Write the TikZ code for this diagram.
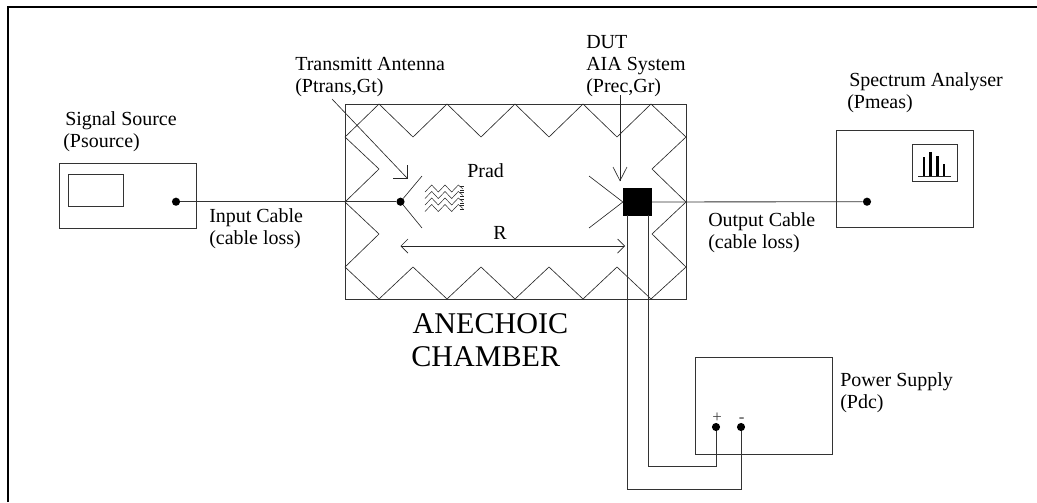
\documentclass[tikz,border=0pt]{standalone}
\usepackage{fontspec}
\setmainfont{Liberation Serif}
\usetikzlibrary{arrows.meta}
\tikzset{
  wire/.style={draw=black!80,line width=0.6pt},
  thinwire/.style={draw=black!85,line width=0.45pt},
  termdot/.style={circle,fill=black,inner sep=0pt,minimum size=5.8pt},
  caption/.style={font=\fontsize{14.2}{15.6}\selectfont,align=left,anchor=base west,inner sep=0pt},
  signtext/.style={font=\fontsize{12}{12}\selectfont,text=black!75,inner sep=0pt},
  rtip/.tip={Straight Barb[length=5pt,width=10pt,line width=0.45pt]},
}
\begin{document}
\begin{tikzpicture}[x=0.025cm,y=-0.025cm]
\useasboundingbox (0,0) rectangle (1037,502);
\draw[line width=1.2pt] (8,502) -- (8,7) -- (1037,7);

% signal source
\draw[wire] (59.5,163.5) rectangle (196.5,228.5);
\draw[wire] (68.5,174) rectangle (123.5,206.5);
\node[termdot] (srcdot) at (176,201.7) {};
\node[caption] (srclabel) at (63,147) {\hspace*{1.4pt}Signal Source\\(Psource)};

% chamber
\draw[wire] (345,104) rectangle (686,299);
\draw[thinwire] (345,137) -- (379,104) -- (413,137) -- (447,104) -- (481,137) -- (515,104)
  -- (549,137) -- (583,104) -- (617,137) -- (651,104) -- (686,137) -- (652,169) -- (686,202)
  -- (652,234) -- (686,267) -- (651,299) -- (617,267) -- (583,299) -- (549,267) -- (515,299)
  -- (481,267) -- (447,299) -- (413,267) -- (379,299) -- (345,267) -- (379,234) -- (345,202)
  -- (379,169) -- cycle;
\node[font=\fontsize{21.4}{23.4}\selectfont,align=left,anchor=base west,inner sep=0pt] (chamberlabel) at (411,366) {\hspace*{1pt}ANECHOIC\\CHAMBER};

% transmit antenna
\node[termdot] (txdot) at (400.5,201.7) {};
\coordinate (txup) at (422,176);
\coordinate (txdown) at (422,228);
\draw[thinwire] (txup) -- (txdot) -- (txdown);
\node[caption] (txlabel) at (295,92) {Transmitt Antenna\\(Ptrans,Gt)};
\coordinate (txfrom) at (332,99);
\coordinate (txto) at (407.3,178.3);
\draw[thinwire] (txfrom) -- (txto);
\draw[thinwire] (393,178.3) -- (txto) -- (407.3,165);

% radiated waves
\foreach \wavey in {185,191.5,198,204.5}{
  \draw[draw=black!85,line width=0.35pt] (425,\wavey+7) -- (431.7,\wavey) -- (438.3,\wavey+7) -- (445,\wavey) -- (451.7,\wavey+7) -- (458.3,\wavey) -- (463,\wavey+4);
  \draw[draw=black!85,line width=0.35pt] (460,\wavey+1) -- (464,\wavey+1) (460,\wavey+5) -- (464,\wavey+5);
}
\node[caption] (pradlabel) at (467,177) {Prad};

% receive antenna and DUT
\node[fill=black,minimum width=20.4pt,minimum height=19.6pt,inner sep=0pt] (dut) at (637.5,202) {};
\coordinate (rxup) at (589,176);
\coordinate (rxdown) at (589,228);
\draw[thinwire] (rxup) -- (dut.west) -- (rxdown);
\node[caption] (dutlabel) at (586,92) {DUT\\AIA System\\(Prec,Gr)};
\coordinate (dutfrom) at (620,95);
\coordinate (dutto) at (620,180.7);
\draw[thinwire] (dutfrom) -- (dutto);
\draw[thinwire] (613,167) -- (dutto) -- (627,167);

% distance
\coordinate (rleft) at (400.5,246);
\coordinate (rright) at (625,246);
\draw[thinwire,rtip-rtip] (rleft) -- (rright);
\node[caption] (rtext) at (493,239) {R};

% spectrum analyser
\draw[wire] (836,130) rectangle (973,227);
\draw[wire] (912,144) rectangle (957,181);
\foreach \barx/\bartop in {924/157,930.3/152,937.7/156,944/164}
  \draw[black,line width=2.1pt] (\barx,\bartop) -- (\barx,176.5);
\draw[thinwire] (918,176.5) -- (951,176.5);
\node[termdot] (specdot) at (867,201.7) {};
\node[caption] (speclabel) at (847,108) {\hspace*{1.4pt}Spectrum Analyser\\(Pmeas)};

% power supply
\draw[wire] (695,357) rectangle (832,454);
\node[termdot] (plusdot) at (716,427) {};
\node[termdot] (minusdot) at (741,427) {};
\node[signtext] (plussign) at (717,417.3) {+};
\node[signtext] (minussign) at (741.7,420) {-};
\node[caption] (pdclabel) at (840,408) {Power Supply\\(Pdc)};

% cables
\draw[wire] (srcdot) -- (txdot);
\draw[wire] (dut) -- (specdot);
\node[caption] (inlabel) at (209,244) {Input Cable\\(cable loss)};
\node[caption] (outlabel) at (708,248) {Output Cable\\(cable loss)};
\coordinate (dutlega) at (648,215);
\coordinate (dutlegb) at (627.7,215);
\coordinate (benda) at (648,466.7);
\coordinate (bendb) at (627.7,489.7);
\draw[wire] (dutlega) -- (benda) -- (benda -| plusdot) -- (plusdot);
\draw[wire] (dutlegb) -- (bendb) -- (bendb -| minusdot) -- (minusdot);
\end{tikzpicture}
\end{document}
